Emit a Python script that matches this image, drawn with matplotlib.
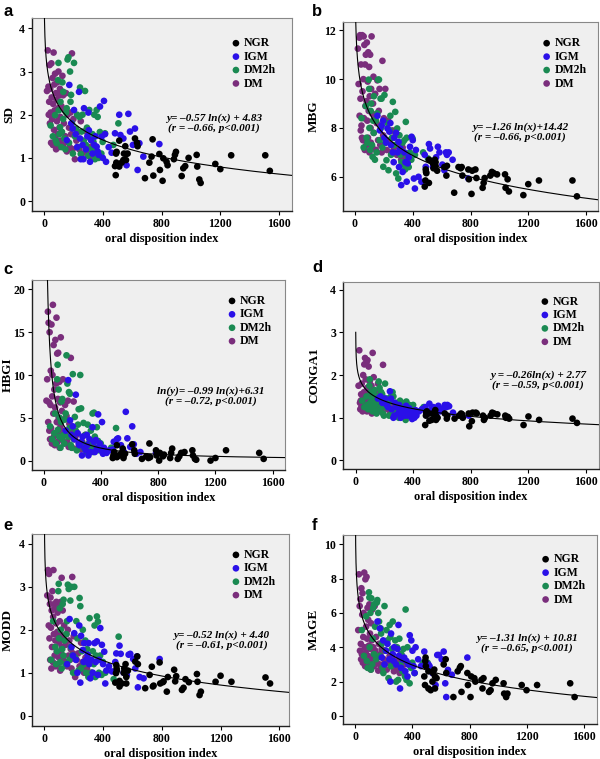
import numpy as np
import matplotlib
matplotlib.use("Agg")
import matplotlib.pyplot as plt

plt.rcParams['font.family'] = ['Liberation Serif', 'DejaVu Serif']
plt.rcParams['font.weight'] = 'bold'

# ---------------- data ----------------
groups = ["NGR", "IGM", "DM2h", "DM"]
colors = {"NGR": "#000000", "IGM": "#2a10e8", "DM2h": "#1a8a52", "DM": "#7a2e7c"}

x_ngr = [483,488,492,490,494,512,512,528,540,544,553,558,569,558,619,633,637,687,717,732,
         739,744,785,789,807,812,834,841,884,891,898,937,948,961,984,1039,1043,1057,1066,1166,
         1200,1274,1506,1537]
x_igm = [155,172,185,195,204,215,225,238,245,250,262,268,272,285,295,302,305,313,320,330,
         342,350,358,365,372,381,392,400,408,415,422,440,460,483,490,512,520,540,562,574,
         585,605,619,630,637,649,676,785]
x_dm2h = [45,60,75,80,86,95,98,100,105,109,112,118,122,125,130,131,138,145,150,154,
          160,166,170,177,180,184,190,196,204,210,218,225,232,240,245,250,256,262,270,279,
          285,292,300,308,315,322,330,336,342,347,352,358,365,372,380,390,399,415,472,506]
x_dm = [20,25,30,32,35,38,40,42,45,48,50,52,55,58,60,62,65,68,70,72,
        75,78,80,82,85,88,90,92,95,98,100,102,105,108,110,112,115,118,120,125,
        128,130,135,140,145,150,155,160,165,170,175,180,185,190,195,200,210,220,230,240,
        250,260,270,280,290,300,310,320,330,345]

# SD
sd_ngr = [0.81,0.60,0.89,1.10,1.14,0.80,1.40,0.89,0.95,1.10,1.27,1.09,1.10,0.95,1.45,1.35,1.27,0.53,0.89,1.03,
          1.43,0.59,1.09,0.72,0.47,0.99,0.91,0.83,0.97,1.07,1.14,0.58,0.76,0.81,1.00,1.07,0.80,0.50,0.42,0.86,
          0.74,1.06,1.06,0.70]
sd_igm = [1.41,2.69,1.80,1.68,2.11,1.55,1.25,2.53,1.45,0.97,1.30,0.97,2.15,1.20,1.50,2.05,1.64,0.91,1.41,1.10,
          1.30,1.50,1.26,1.15,1.07,2.19,1.49,1.00,2.32,1.55,0.91,1.25,1.12,1.57,1.12,2.00,1.53,1.45,0.83,2.02,
          1.61,1.30,1.68,1.34,0.72,1.34,1.03,1.32]
sd_dm2h = [1.75,1.50,1.99,1.40,1.34,2.80,3.20,2.10,1.55,1.71,2.30,1.25,1.60,2.75,1.90,2.53,1.45,1.20,2.05,2.15,
           3.28,3.33,1.35,3.00,2.30,2.46,1.80,1.10,3.20,1.50,1.68,2.00,1.25,1.95,2.63,1.09,1.61,2.00,1.40,2.55,
           1.30,1.70,1.05,2.11,1.45,1.20,1.55,1.37,2.00,0.97,1.15,2.11,1.95,1.00,1.60,1.10,1.37,1.57,1.30,1.80]
sd_dm = [2.55,3.49,2.65,2.00,2.30,3.15,1.80,2.60,2.05,1.35,3.19,2.40,1.90,2.85,1.30,2.25,3.44,1.65,2.70,2.10,
         2.95,1.45,2.50,1.20,2.35,1.85,2.75,1.55,2.15,3.00,1.25,2.45,1.70,2.60,1.95,1.40,2.55,2.20,1.60,2.90,
         1.30,2.45,1.80,2.10,1.50,2.50,1.15,2.00,1.35,1.70,1.25,2.05,1.55,3.42,1.20,1.90,0.97,1.40,1.60,1.20,
         1.85,1.10,1.30,1.62,1.15,1.50,1.25,1.00,1.40,1.10]

# MBG
mbg_ngr = [5.60,5.85,6.20,6.30,6.15,5.75,6.70,6.65,6.55,6.35,6.70,6.45,6.25,6.60,6.40,6.05,6.45,5.35,6.40,6.35,
           6.40,6.05,6.30,5.90,5.30,6.25,6.30,5.95,5.55,5.75,5.95,6.05,6.20,6.15,6.10,6.10,5.55,5.90,5.40,5.25,
           5.70,5.85,5.85,5.20]
mbg_igm = [8.5,7.9,8.1,8.3,7.6,7.4,7.98,7.85,8.2,7.3,7.0,6.6,7.6,7.8,7.0,7.43,6.4,7.16,5.66,6.2,
           7.0,6.6,5.8,6.55,6.8,7.23,7.64,7.5,5.93,5.52,7.1,6.0,5.8,6.9,6.41,7.34,7.16,6.41,6.8,7.23,
           7.0,6.5,6.27,7.0,6.9,7.0,6.7,5.93]
mbg_dm2h = [8.4,7.2,8.9,7.6,7.4,9.98,9.6,8.0,7.1,8.7,9.0,7.3,6.82,8.3,7.8,9.3,6.7,8.3,7.0,8.6,
            9.98,9.98,7.5,9.2,8.0,9.2,7.2,6.41,9.35,7.4,6.68,8.2,6.27,7.9,8.5,6.9,7.6,9.07,7.3,8.66,
            6.14,7.98,5.93,7.7,6.9,6.6,7.4,6.5,7.5,6.3,8.25,7.6,6.8,6.4,7.0,6.7,7.57,6.9,7.0,6.75]
mbg_dm = [11.25,9.8,11.7,8.5,11.8,9.2,7.9,10.6,8.1,7.6,11.8,9.5,7.5,10.0,11.75,8.4,11.4,7.1,10.6,8.9,
          11.0,7.3,9.1,11.5,8.3,9.9,7.6,11.1,8.7,10.5,7.0,9.3,11.0,8.0,7.4,9.6,11.75,8.6,7.2,9.0,
          10.1,7.8,8.5,9.4,7.1,8.2,9.95,7.5,8.7,9.6,7.3,8.1,7.0,10.75,7.7,8.4,9.6,7.1,8.3,7.5,
          7.0,7.9,7.2,7.8,6.9,7.4,7.0,6.7,7.2,6.8]

# HBGI
hbgi_ngr = [0.3,0.6,0.8,0.5,1.0,0.4,1.8,0.6,0.7,0.9,1.4,0.5,0.8,0.3,1.9,1.2,0.8,0.2,0.5,0.3,
            2.0,0.4,1.2,0.6,0.0,0.9,0.5,0.7,0.3,0.9,1.4,0.2,0.5,0.9,1.0,1.2,0.6,0.2,0.1,0.0,
            0.3,1.2,0.9,0.2]
hbgi_igm = [3.5,9.4,4.7,3.0,4.0,2.5,7.7,3.2,2.0,1.8,2.2,0.6,2.8,1.5,1.2,3.0,1.8,0.6,2.5,1.0,
            3.9,2.2,1.0,2.4,1.5,5.4,2.0,1.2,4.5,0.8,1.5,0.9,1.2,1.3,2.2,2.5,2.6,1.8,1.0,5.7,
            2.6,1.6,4.0,1.9,1.0,0.8,1.0,0.9]
hbgi_dm2h = [4.0,2.5,3.2,5.5,2.0,9.5,11.2,3.6,8.3,2.8,5.0,1.5,4.5,6.9,2.5,7.2,3.0,2.0,4.8,5.5,
             12.3,9.0,2.8,8.0,3.8,7.8,1.8,1.5,10.1,2.5,5.1,3.5,1.2,4.2,6.0,1.8,10.0,6.1,2.0,4.4,
             1.4,3.0,1.0,4.2,2.0,1.5,3.5,2.2,5.5,1.0,5.6,2.8,1.5,3.9,2.3,1.2,2.0,1.0,1.5,3.8]
hbgi_dm = [7.0,9.5,17.4,4.5,16.1,6.8,3.5,15.0,2.5,6.5,10.5,3.8,15.9,2.0,7.5,10.0,18.2,5.5,13.5,2.8,
           8.3,1.8,6.2,14.1,3.2,9.0,16.7,4.5,12.5,2.2,7.2,12.6,5.0,3.0,9.2,1.5,6.8,4.0,14.4,2.5,
           5.8,3.5,9.5,4.8,2.0,6.5,3.0,5.2,2.2,7.0,1.6,4.3,2.8,12.0,3.5,1.5,6.9,2.5,3.0,1.5,
           2.0,1.3,2.2,1.4,3.0,1.8,1.2,2.0,1.5,1.8]

# CONGA1
conga_ngr = [0.83,1.05,1.10,1.12,1.15,0.93,1.10,0.95,1.08,1.12,1.18,1.05,1.00,0.95,1.10,0.98,1.05,0.98,1.05,1.10,
             1.08,1.00,1.10,0.80,0.92,1.12,1.12,1.10,1.05,0.95,1.00,1.05,1.12,1.10,1.08,1.05,1.00,1.02,0.98,0.83,
             1.03,0.95,0.98,0.88]
conga_igm = [1.45,1.50,1.35,1.40,1.45,1.30,1.25,1.62,1.45,1.20,1.00,1.05,1.35,1.25,1.10,1.30,1.15,1.00,1.20,1.10,
             1.05,1.28,1.15,1.05,1.22,1.15,0.97,1.10,1.00,1.18,1.05,1.15,1.20,1.25,1.10,1.33,1.18,1.25,1.20,1.28,
             1.15,1.22,1.30,1.25,1.30,1.27,1.12,1.05]
conga_dm2h = [1.40,1.25,1.50,1.30,1.20,1.75,1.90,1.35,1.60,1.25,1.45,1.15,1.35,1.55,1.20,1.65,1.30,1.10,1.40,1.50,
              1.85,1.70,1.20,1.60,1.30,1.55,1.10,1.05,1.80,1.25,1.45,1.30,1.05,1.40,1.50,1.10,1.60,1.50,1.15,1.35,
              1.05,1.30,1.00,1.40,1.15,1.05,1.30,1.20,1.35,0.95,1.38,1.25,1.10,1.30,1.20,1.05,1.30,1.10,1.25,1.15]
conga_dm = [1.75,2.58,1.35,1.20,1.40,1.55,1.25,1.80,1.30,1.15,1.45,2.00,1.25,1.60,2.25,1.35,2.40,1.20,1.90,1.50,
            2.30,1.15,1.70,2.35,1.40,1.30,2.20,1.55,1.25,1.85,1.45,1.20,1.60,1.35,1.75,1.10,1.50,2.52,1.30,1.95,
            1.25,1.45,1.60,1.20,1.55,1.35,1.80,1.15,1.40,1.30,1.50,1.20,1.35,2.24,1.25,1.45,1.30,1.20,1.35,1.15,
            1.30,1.20,1.25,1.10,1.20,1.15,1.10,1.20,1.05,1.15]

# MODD
modd_ngr = [0.77,0.99,1.10,1.18,1.05,0.81,0.68,0.75,1.00,1.10,1.20,0.90,1.05,0.75,1.26,1.38,1.20,0.64,0.95,1.14,
            0.68,0.70,1.24,0.75,0.78,0.80,0.56,0.90,1.07,0.80,0.92,0.60,0.65,0.85,0.78,0.97,0.79,0.48,0.56,0.79,
            0.93,0.79,0.89,0.75]
modd_igm = [1.20,2.25,1.60,1.40,1.92,1.30,1.00,2.10,0.77,1.86,1.53,1.25,1.69,1.30,1.42,1.69,1.20,0.87,1.30,1.00,
            1.69,1.25,1.73,0.95,1.30,2.04,1.65,1.20,1.49,0.75,1.05,1.15,1.03,1.25,1.45,1.63,1.44,1.00,0.95,1.42,
            1.44,1.32,1.10,1.38,0.66,0.90,0.87,1.32]
modd_dm2h = [1.30,2.20,1.60,1.20,1.50,2.90,3.07,1.80,2.50,1.25,2.00,1.10,1.55,2.60,1.40,2.70,1.75,1.20,1.90,2.20,
             3.05,2.95,1.30,2.68,1.60,3.00,1.40,1.00,3.00,1.35,2.20,1.80,1.05,2.74,2.55,1.10,1.50,2.00,1.20,1.75,
             1.00,1.55,0.90,2.27,1.30,1.00,1.50,1.20,2.10,0.90,1.40,2.31,2.19,1.00,1.40,0.95,1.25,1.00,0.85,1.84]
modd_dm = [2.80,3.39,2.10,3.30,1.80,2.60,1.30,2.75,2.05,1.10,2.45,1.60,2.90,1.25,2.30,3.39,1.90,2.60,1.40,2.50,
           1.75,1.15,2.15,2.65,1.50,1.95,2.40,1.20,1.85,2.55,1.35,1.70,2.20,1.05,1.90,2.65,1.45,3.21,1.60,2.45,
           1.30,1.80,2.10,1.25,1.65,1.90,1.15,2.00,1.40,1.75,1.30,1.55,1.10,3.23,1.45,1.85,0.90,1.30,1.45,1.15,
           1.70,1.25,1.00,1.35,1.10,1.20,0.95,1.00,1.25,0.95]

# MAGE
mage_ngr = [2.3,1.8,3.4,3.2,2.9,1.6,2.6,1.5,2.0,2.5,2.7,2.3,2.2,1.6,3.0,3.3,2.5,1.1,2.6,2.8,
            2.9,1.4,2.5,1.8,1.1,2.3,2.2,2.0,2.1,1.6,2.2,1.4,1.5,1.9,2.1,1.9,1.3,1.1,1.3,1.8,
            1.5,1.8,1.9,1.1]
mage_igm = [5.5,5.1,3.4,4.4,3.0,3.8,4.2,3.3,2.0,4.8,3.6,3.2,4.0,3.0,3.9,5.3,3.5,1.6,2.8,3.3,
            3.4,2.6,3.2,2.3,3.0,4.7,4.4,3.8,2.9,2.5,4.0,3.3,2.9,3.75,3.2,3.0,2.9,2.5,1.8,3.55,
            3.55,3.3,3.75,1.9,1.1,2.68,2.4,3.4]
mage_dm2h = [5.0,3.5,5.8,3.2,2.8,7.2,6.9,4.0,6.0,2.7,6.85,3.0,4.5,6.3,3.6,6.5,5.2,3.3,6.6,6.75,
             6.0,5.5,3.5,5.1,4.8,4.2,2.8,2.5,6.4,3.8,5.0,4.4,2.2,5.3,4.6,2.9,3.9,5.5,3.1,4.4,
             2.0,4.0,2.1,4.5,3.0,3.6,2.6,3.9,3.3,2.3,6.2,2.1,4.0,3.0,1.9,2.8,3.1,2.5,3.1,3.1]
mage_dm = [5.0,8.25,6.4,3.8,6.8,4.2,3.3,7.44,3.6,5.9,7.15,3.1,4.6,6.0,3.4,8.35,4.0,2.9,7.96,3.7,
           5.2,8.1,3.0,4.5,6.3,3.5,5.6,2.8,4.1,6.5,3.2,4.8,3.9,2.7,5.4,3.3,4.4,6.2,3.0,4.0,
           3.6,2.9,6.4,3.8,4.6,3.1,3.4,2.64,4.2,3.0,3.6,2.8,3.9,4.3,2.6,3.3,3.8,2.7,3.1,3.5,
           2.9,3.4,2.6,3.0,2.8,3.2,2.5,3.6,2.7,3.0]

x_ticks = [0, 400, 800, 1200, 1600]
xlabel = "oral disposition index"

# fitted curves: (slope, intercept, kind)
fits = {
    "a": (-0.57, 4.83, "lin"),
    "b": (-1.26, 14.42, "lin"),
    "c": (-0.99, 6.31, "log"),
    "d": (-0.26, 2.77, "lin"),
    "e": (-0.52, 4.40, "lin"),
    "f": (-1.31, 10.81, "lin"),
}
equations = {
    "a": "y= \u20130.57 ln(x) + 4.83\n(r = \u20130.66, p<0.001)",
    "b": "y= \u20131.26 ln(x)+14.42\n(r = \u20130.66, p<0.001)",
    "c": "ln(y)= \u20130.99 ln(x)+6.31\n(r = \u20130.72, p<0.001)",
    "d": "y = \u20130.26ln(x) + 2.77\n(r = \u20130.59, p<0.001)",
    "e": "y= \u20130.52 ln(x) + 4.40\n(r = \u20130.61, p<0.001)",
    "f": "y= \u20131.31 ln(x) + 10.81\n(r = \u20130.65, p<0.001)",
}
ylabels = {"a": "SD", "b": "MBG", "c": "HBGI", "d": "CONGA1", "e": "MODD", "f": "MAGE"}
ydata = {
    "a": (sd_ngr, sd_igm, sd_dm2h, sd_dm),
    "b": (mbg_ngr, mbg_igm, mbg_dm2h, mbg_dm),
    "c": (hbgi_ngr, hbgi_igm, hbgi_dm2h, hbgi_dm),
    "d": (conga_ngr, conga_igm, conga_dm2h, conga_dm),
    "e": (modd_ngr, modd_igm, modd_dm2h, modd_dm),
    "f": (mage_ngr, mage_igm, mage_dm2h, mage_dm),
}
yticks = {
    "a": [0, 1, 2, 3, 4], "b": [6, 8, 10, 12], "c": [0, 5, 10, 15, 20],
    "d": [0, 1, 2, 3, 4], "e": [0, 1, 2, 3, 4], "f": [0, 2, 4, 6, 8, 10],
}

# ---------------- layout (pixels: left, right, top, bottom) ----------------
W, H = 600, 759
layout = {
    "a": dict(px=(32, 292, 18, 211), ylim=(-0.23, 4.24), xlim=(-82, 1688), leg=(0.773, 0.90), eq=(0.70, 0.453), lab=(3, 12), ylx=15),
    "b": dict(px=(343, 598, 22, 211), ylim=(4.6, 12.34), xlim=(-83, 1683), leg=(0.787, 0.919), eq=(0.694, 0.418), lab=(312, 12), ylx=320),
    "c": dict(px=(32, 285, 280, 470), ylim=(-1.1, 21.1), xlim=(-81, 1686), leg=(0.779, 0.921), eq=(0.707, 0.386), lab=(3, 270), ylx=14),
    "d": dict(px=(343, 599, 282, 469), ylim=(-0.2, 4.18), xlim=(-88, 1690), leg=(0.777, 0.927), eq=(0.762, 0.476), lab=(312, 268), ylx=320),
    "e": dict(px=(32, 289, 534, 726), ylim=(-0.24, 4.23), xlim=(-84, 1666), leg=(0.782, 0.922), eq=(0.738, 0.446), lab=(3, 525), ylx=14),
    "f": dict(px=(343, 597, 535, 724), ylim=(-0.47, 10.54), xlim=(-87, 1694), leg=(0.786, 0.903), eq=(0.723, 0.427), lab=(312, 525), ylx=320),
}
curve_start = {"a": 0.5, "b": 0.5, "c": 0.5, "d": 0.41, "e": 0.5, "f": 0.5}

fig = plt.figure(figsize=(W / 100, H / 100), dpi=100)
xs_all = (x_ngr, x_igm, x_dm2h, x_dm)

for key in ["a", "b", "c", "d", "e", "f"]:
    L = layout[key]
    l, r, t, b = L["px"]
    ax = fig.add_axes([l / W, 1 - b / H, (r - l) / W, (b - t) / H])
    ax.set_facecolor("#efefef")
    handles = {}
    for gi in [3, 2, 1, 0]:
        g = groups[gi]
        h = ax.scatter(xs_all[gi], ydata[key][gi], s=23, color=colors[g], edgecolors="none", zorder=3, label=g)
        handles[g] = h
    slope, icpt, kind = fits[key]
    xc = np.geomspace(curve_start[key], 1700, 600)
    if kind == "lin":
        yc = slope * np.log(xc) + icpt
    else:
        yc = np.exp(slope * np.log(xc) + icpt)
    ax.plot(xc, yc, color="black", lw=0.8, zorder=4)
    ax.set_xlim(*L["xlim"])
    ax.set_ylim(*L["ylim"])
    ax.set_xticks(x_ticks)
    ax.set_yticks(yticks[key])
    ax.tick_params(axis="both", labelsize=8.5, length=3, width=0.8, direction="out", pad=2)
    for s in ["left", "bottom"]:
        ax.spines[s].set_color("#222222")
        ax.spines[s].set_linewidth(1.0)
    for s in ["top", "right"]:
        ax.spines[s].set_color("#888888")
        ax.spines[s].set_linewidth(0.8)
    ax.set_xlabel(xlabel, fontsize=8.8, fontweight="bold", labelpad=2)
    ax.set_ylabel(ylabels[key], fontsize=9.5, fontweight="bold")
    ax.yaxis.set_label_coords((L["ylx"] - l) / (r - l), 0.5)
    ax.legend([handles[g] for g in groups], groups, loc="upper left", bbox_to_anchor=L["leg"],
              frameon=False, fontsize=8.5, handlelength=0.5, handletextpad=0.4,
              labelspacing=0.12, borderpad=0, borderaxespad=0, scatterpoints=1)
    ax.text(L["eq"][0], L["eq"][1], equations[key], transform=ax.transAxes, ha="center", va="center",
            fontsize=8, fontweight="bold", fontstyle="italic", linespacing=1.05, zorder=5)
    fig.text(L["lab"][0] / W, 1 - L["lab"][1] / H, key, fontsize=12, fontweight="bold",
             family="Liberation Sans", ha="left", va="center")

fig.savefig("out.png", dpi=100)
